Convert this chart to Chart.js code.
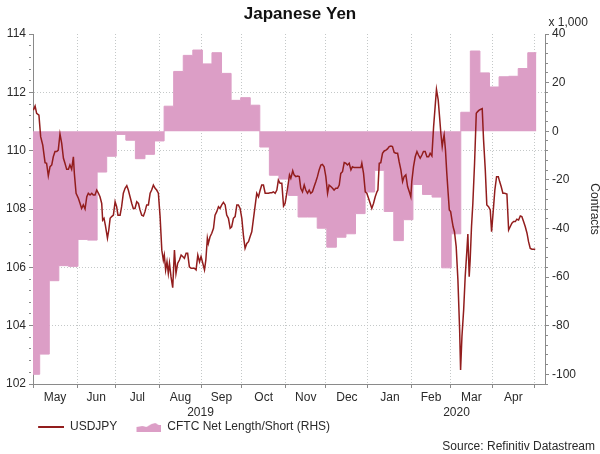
<!DOCTYPE html>
<html><head><meta charset="utf-8">
<script src="https://cdn.jsdelivr.net/npm/chart.js@4/dist/chart.umd.min.js"></script>
<style>html,body{margin:0;padding:0;background:#fff}#wrap{width:600px;height:454px}</style>
</head><body><div id="wrap"><canvas id="c" width="600" height="454"></canvas></div>
<script>
// ---- data (x = weekday count from 1 May 2019) ----
const monthStarts = [0,23,43,66,88,109,132,153,175,198,218,240,262];
const monthLabels = ['May','Jun','Jul','Aug','Sep','Oct','Nov','Dec','Jan','Feb','Mar','Apr'];
const yearStarts = [0,175];
const yearLabels = ['2019','2020'];
const dayMax = 267.5;

const usdjpyDay = [
0.2,1.1,1.9,3.1,4.0,5.1,6.3,7.1,8.0,8.9,9.8,10.6,11.5,12.4,13.2,14.1,15.0,15.9,16.7,17.6,18.5,19.3,20.2,21.1,21.6,
22.5,23.7,24.6,25.4,26.3,27.2,28.1,28.9,29.8,30.7,31.5,32.4,33.3,34.2,35.0,35.9,36.4,37.1,37.8,38.9,39.6,40.3,41.1,42.0,42.9,
43.7,44.4,45.5,46.3,47.2,48.1,49.0,49.8,50.7,51.6,52.4,53.3,54.2,55.1,55.9,56.8,57.7,58.5,59.4,60.3,61.2,62.0,62.9,63.8,64.6,
65.5,66.4,67.3,68.1,68.6,69.3,70.0,70.7,71.3,72.1,73.0,73.9,74.7,75.6,76.5,77.4,78.2,79.1,80.0,80.8,81.7,82.6,83.5,84.3,85.2,
86.1,87.0,87.8,88.7,89.6,90.3,91.1,91.6,92.5,93.4,94.3,95.1,96.0,96.9,97.7,98.6,99.5,100.4,101.2,102.1,103.0,103.8,104.7,105.6,106.5,
107.3,108.2,109.1,110.0,110.8,111.7,112.6,113.4,114.3,115.2,116.0,116.9,117.8,118.7,119.5,120.4,121.3,122.1,123.0,123.9,124.8,125.6,126.5,127.4,128.2,
129.1,130.0,130.9,131.7,132.6,134.0,134.7,135.7,136.4,137.3,138.2,139.1,139.9,140.8,141.7,142.5,143.4,144.3,145.1,146.0,146.9,147.8,148.6,149.5,150.4,
151.2,152.1,153.0,153.9,154.7,155.6,156.5,157.3,158.2,159.1,160.0,160.8,161.7,162.6,163.4,164.3,165.2,166.1,166.9,167.8,169.5,171.3,171.8,172.7,173.6,
174.4,175.3,176.2,177.0,177.9,178.8,179.7,180.2,180.9,181.7,182.6,183.5,184.4,185.2,186.1,187.0,187.8,188.7,189.6,190.5,191.3,192.2,193.1,193.9,194.8,
195.7,196.6,197.4,197.9,198.8,199.7,200.6,201.4,202.3,203.2,204.0,204.9,205.8,206.7,207.5,208.4,209.3,210.1,210.8,211.7,212.4,213.1,213.8,
214.3,214.8,215.5,216.2,216.9,217.5,218.2,218.9,219.5,220.2,221.1,222.0,222.9,223.4,224.1,225.0,225.8,226.7,227.2,227.9,228.4,229.1,229.8,230.7,231.6,
232.3,233.1,234.0,234.7,235.4,236.3,237.1,238.0,238.9,239.6,240.5,241.3,242.2,243.1,243.8,244.6,245.5,246.4,247.6,248.5,
249.3,250.2,251.1,252.0,252.8,253.7,254.6,255.4,256.3,257.2,258.1,258.9,259.8,260.7,262.4];
const usdjpyValue = [
111.39,111.53,111.28,111.22,110.48,110.19,109.59,109.57,109.14,109.45,109.51,109.79,109.97,109.97,110.02,110.57,110.25,109.74,109.57,109.36,109.36,109.51,109.36,109.79,109.22,
108.54,108.37,108.19,108.02,108.14,108.00,108.42,108.54,108.48,108.54,108.48,108.48,108.65,108.54,108.42,108.19,107.62,107.68,107.45,107.00,107.28,107.68,107.74,107.79,108.25,
108.08,107.79,107.79,108.08,108.54,108.71,108.80,108.65,108.42,108.19,108.02,108.02,108.25,108.19,107.97,107.79,107.76,107.91,108.14,108.14,108.54,108.65,108.82,108.71,108.65,
108.54,107.74,106.59,106.25,106.42,105.91,106.19,105.79,106.14,105.68,105.30,106.59,105.79,106.14,106.25,106.42,106.37,106.31,106.48,106.48,106.02,105.97,105.97,105.97,105.91,
106.42,106.19,106.37,106.14,105.91,106.25,107.00,106.82,107.05,107.17,107.34,107.79,107.91,108.08,108.02,108.14,108.23,108.14,107.79,107.68,107.34,107.39,107.68,107.74,108.14,
108.14,108.02,107.68,107.05,106.65,106.82,106.88,107.05,107.22,107.68,108.08,108.54,108.42,108.65,108.82,108.82,108.54,108.54,108.54,108.56,108.56,108.59,108.54,108.65,108.99,
108.88,108.88,108.10,108.19,108.54,109.17,109.05,109.31,109.17,109.11,109.13,109.11,108.71,108.59,108.82,108.65,108.54,108.65,108.54,108.59,108.77,108.94,109.11,109.34,109.51,
109.53,109.45,109.11,108.54,108.82,108.77,108.71,108.65,108.71,108.71,108.82,109.22,109.28,109.59,109.57,109.51,109.57,109.34,109.45,109.42,109.42,109.42,109.57,109.22,108.59,
108.54,108.37,108.19,108.02,108.19,108.42,108.59,108.65,109.57,109.59,109.91,109.99,110.02,110.06,110.14,110.16,110.14,109.94,109.91,109.91,109.62,109.34,108.94,109.11,109.17,
108.77,108.59,108.42,108.94,109.45,109.79,109.97,109.85,109.74,109.85,109.97,109.97,109.79,109.79,109.91,109.82,110.82,111.51,112.10,111.74,111.17,110.59,110.14,
110.37,110.54,110.02,109.22,108.54,107.97,107.91,107.62,107.39,107.22,106.71,105.57,103.85,102.48,103.62,104.54,105.68,106.59,107.14,105.68,106.25,107.39,108.19,109.57,111.28,
111.34,111.39,111.42,111.44,110.37,109.34,108.14,108.08,107.97,107.22,107.97,108.65,109.11,109.11,108.94,108.77,108.54,108.54,108.51,107.28,
107.39,107.51,107.57,107.57,107.65,107.62,107.76,107.74,107.57,107.39,107.17,106.88,106.65,106.62,106.62];

// CFTC weekly net position (x 1,000 contracts); each value holds until the next date
const cftcDay = [0,3.5,8.5,13.5,18.5,23.5,28.5,33.5,38.5,43.5,48.5,53.5,58.5,63.5,68.5,73.5,78.5,83.5,88.5,93.5,98.5,103.5,108.5,113.5,118.5,
123.5,128.5,133.5,138.5,143.5,148.5,153.5,158.5,163.5,168.5,173.5,178.5,183.5,188.5,193.5,198.5,203.5,208.5,213.5,218.5,223.5,228.5,233.5,238.5,243.5,
248.5,253.5,258.5,263];
const cftcValue = [-100,-91.7,-61.5,-55.3,-55.6,-44.5,-44.8,-16.8,-10.3,-1.3,-3.7,-11.3,-9.5,-4.0,10.3,24.6,31.2,33.4,27.7,32.3,23.8,12.7,13.8,10.7,-6.5,
-18.1,-19.7,-26.4,-35.3,-35.3,-39.9,-47.7,-43.6,-42.2,-33.9,-25.0,-16.1,-33.0,-45.0,-36.4,-21.9,-26.0,-27.1,-56.2,-42.2,7.8,33.0,24.0,18.2,22.4,
22.6,25.8,32.3,32.3];

const leftAxis = {min:102, max:114, major:2, minor:0.4};
const rightAxis = {min:-104, max:40, major:20, minor:4};
const titleText = 'Japanese Yen';
const unitText = 'x 1,000';
const rightTitle = 'Contracts';
const sourceText = 'Source: Refinitiv Datastream';
const seriesNames = ['USDJPY','CFTC Net Length/Short (RHS)'];

// ---- styling ----
const LINE = '#921d1d';
const PINK = '#dc9ec6';
const AXIS = '#8a8a8a';
const GRID = '#c4c8c8';
const TXT = '#2a2a2a';
const FONT = "'Liberation Sans', Arial, sans-serif";
const CLEAR = 'rgba(0,0,0,0)';
const LEGEND_INSET = 20;

Chart.defaults.font.family = FONT;
Chart.defaults.font.size = 12;
Chart.defaults.color = TXT;

const monthMids = monthLabels.map((_, i) => (monthStarts[i] + monthStarts[i+1]) / 2);
const yearEnds = yearStarts.slice(1).concat([dayMax]);
const yearMids = yearStarts.map((s, i) => (s + yearEnds[i]) / 2);
const xTickVals = monthStarts.concat(monthMids).sort((a,b)=>a-b);

function stepTicks(a) {
  const out = [];
  const n = Math.round((a.max - a.min) / a.minor);
  for (let k = 0; k <= n; k++) out.push(Math.round((a.min + k * a.minor) * 1000) / 1000);
  return out;
}
const isMajor = (v, m) => Math.abs(v / m - Math.round(v / m)) < 1e-6;

// legend icons (drawn in the right part of a 43px wide box)
function lineIcon() {
  const c = document.createElement('canvas'); c.width = 43; c.height = 4;
  const g = c.getContext('2d'); g.strokeStyle = LINE; g.lineWidth = 2;
  g.beginPath(); g.moveTo(17, 2); g.lineTo(43, 2); g.stroke(); return c;
}
function areaIcon() {
  const c = document.createElement('canvas'); c.width = 43; c.height = 10;
  const g = c.getContext('2d'); g.fillStyle = PINK; g.beginPath();
  const o = 18;
  g.moveTo(o, 10); g.lineTo(o, 5); g.lineTo(o+6, 4); g.lineTo(o+10, 5); g.lineTo(o+15, 2);
  g.lineTo(o+19, 1); g.lineTo(o+22, 3); g.lineTo(43, 3); g.lineTo(43, 10); g.closePath(); g.fill(); return c;
}
const icons = [lineIcon(), areaIcon()];

const notes = {
  id: 'notes',
  afterLayout(chart) {
    if (chart.legend) { chart.legend.left += LEGEND_INSET; }
  },
  afterDraw(chart) {
    const {ctx, chartArea} = chart;
    const yR = chart.scales.yR;
    ctx.save();
    ctx.font = '12px ' + FONT; ctx.fillStyle = TXT; ctx.textBaseline = 'alphabetic';
    ctx.textAlign = 'left'; ctx.fillText(unitText, yR.left + 3.5, chartArea.top - 8);
    ctx.textAlign = 'right'; ctx.fillText(sourceText, chart.width - 5, chart.height - 4.5);
    ctx.restore();
  }
};

new Chart(document.getElementById('c'), {
  type: 'line',
  data: {
    datasets: [
      { label: seriesNames[0], data: usdjpyDay.map((d, i) => ({x: d, y: usdjpyValue[i]})),
        xAxisID: 'x', yAxisID: 'y', borderColor: LINE, backgroundColor: LINE, borderWidth: 1.5,
        pointRadius: 0, fill: false, tension: 0 },
      { label: seriesNames[1], data: cftcDay.map((d, i) => ({x: d, y: cftcValue[i]})),
        xAxisID: 'x', yAxisID: 'yR', stepped: true, fill: 'origin', backgroundColor: PINK,
        borderColor: PINK, borderWidth: 1, pointRadius: 0 }
    ]
  },
  options: {
    responsive: false, animation: false, events: [],
    layout: { padding: { left: 0, right: 0, top: 0, bottom: 11 } },
    plugins: {
      tooltip: { enabled: false },
      title: { display: true, text: titleText, color: '#111',
        font: { size: 17, weight: 'bold' }, padding: { top: 4, bottom: 9.6 } },
      legend: { position: 'bottom', align: 'start',
        labels: { usePointStyle: true, pointStyleWidth: 42.8, padding: 1.2, color: TXT, font: { size: 12 },
          generateLabels(chart) {
            const items = Chart.defaults.plugins.legend.labels.generateLabels(chart);
            items.forEach((it, i) => { it.pointStyle = icons[i]; });
            return items;
          } } }
    },
    scales: {
      x: { type: 'linear', position: 'bottom', min: 0, max: dayMax, weight: 0,
        afterBuildTicks(s) { s.ticks = xTickVals.map(v => ({value: v})); },
        afterFit(s) { s.height = 20.4; },
        ticks: { autoSkip: false, maxRotation: 0, padding: 2, color: TXT,
          callback(v) { const i = monthMids.indexOf(v); return i >= 0 ? monthLabels[i] : ''; } },
        grid: { tickLength: 4, tickBorderDash: [],
          color: c => (c.tick && monthStarts.includes(c.tick.value) && c.tick.value > 0) ? GRID : CLEAR,
          tickColor: c => (c.tick && monthStarts.includes(c.tick.value)) ? AXIS : CLEAR },
        border: { color: AXIS, dash: [1, 2] } },
      xYear: { type: 'linear', axis: 'x', position: 'bottom', min: 0, max: dayMax, weight: 1,
        afterBuildTicks(s) { s.ticks = yearMids.map(v => ({value: v})); },
        afterFit(s) { s.height = 15.4; },
        ticks: { autoSkip: false, maxRotation: 0, padding: 1, color: TXT,
          callback(v) { const i = yearMids.indexOf(v); return i >= 0 ? yearLabels[i] : ''; } },
        grid: { display: false, drawTicks: false }, border: { display: false } },
      y: { type: 'linear', position: 'left', min: leftAxis.min, max: leftAxis.max,
        afterBuildTicks(s) { s.ticks = stepTicks(leftAxis).map(v => ({value: v})); },
        afterFit(s) { s.width = 33; },
        ticks: { autoSkip: false, padding: 3, color: TXT,
          callback(v) { return isMajor(v, leftAxis.major) ? String(v) : ''; } },
        grid: { tickLength: 4,
          color: c => (c.tick && isMajor(c.tick.value, leftAxis.major) && c.tick.value > leftAxis.min && c.tick.value < leftAxis.max) ? GRID : CLEAR,
          tickColor: AXIS,
          tickBorderDash: c => (c.tick && isMajor(c.tick.value, leftAxis.major)) ? [] : [2, 10] },
        border: { color: AXIS, dash: [1, 2] } },
      yR: { type: 'linear', position: 'right', min: rightAxis.min, max: rightAxis.max,
        afterBuildTicks(s) { s.ticks = stepTicks(rightAxis).map(v => ({value: v})); },
        afterFit(s) { s.width = 55; },
        ticks: { autoSkip: false, padding: 3, color: TXT,
          callback(v) { return isMajor(v, rightAxis.major) ? String(v) : ''; } },
        grid: { drawOnChartArea: false, tickLength: 4, tickColor: AXIS,
          tickBorderDash: c => (c.tick && isMajor(c.tick.value, rightAxis.major)) ? [] : [2, 10] },
        border: { color: AXIS },
        title: { display: true, text: rightTitle, color: TXT, font: { size: 12 }, padding: { top: -1.2, bottom: 0 } } }
    }
  },
  plugins: [notes]
});
</script>
</body></html>
